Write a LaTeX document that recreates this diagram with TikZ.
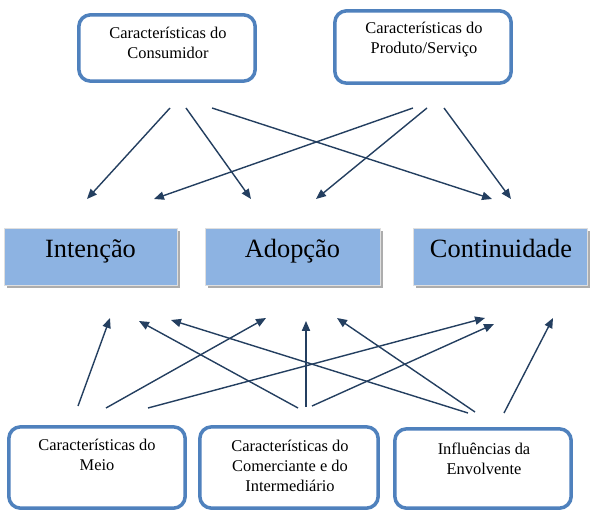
\documentclass[tikz,border=0pt]{standalone}
\usepackage{fontspec}
\setmainfont{Liberation Serif}
\usepackage{tikz}
\usetikzlibrary{arrows.meta,shadows}

\definecolor{boxline}{RGB}{79,129,189}
\definecolor{boxfill}{RGB}{141,179,226}
\definecolor{arrowcol}{RGB}{36,63,96}

\begin{document}
\begin{tikzpicture}[x=0.03cm,y=-0.03cm,
  ubox/.style={draw=boxline,line width=3pt,rounded corners=10pt,fill=white,minimum width=5.29cm},
  mbox/.style={fill=boxfill,draw=gray!25,line width=0.6pt,minimum height=1.71cm,
    drop shadow={shadow xshift=2.5pt,shadow yshift=-2.5pt,fill=gray!80,opacity=0.8}},
  utxt/.style={align=center,font=\fontsize{14}{17}\selectfont,inner sep=0pt},
  mtxt/.style={font=\fontsize{22.5}{27}\selectfont,text height=16pt,text depth=5pt,inner sep=0pt},
  arr/.style={draw=arrowcol,line width=1.2pt,-{Triangle[length=8.5pt,width=7pt]}}]
\useasboundingbox (0,0) rectangle (596,516);

% top boxes
\node[ubox,minimum height=1.99cm] (cons) at (167,48) {};
\node[utxt] (cons-t) at (168,43) {Características do\\Consumidor};
\node[ubox,minimum height=2.17cm] (prod) at (423,47) {};
\node[utxt] (prod-t) at (424,40) {Características do\\Produto/Serviço};

% middle row
\node[mbox,minimum width=5.19cm] (int) at (90.5,256.5) {};
\node[mtxt] (int-t) at (90.5,251) {Intenção};
\node[mbox,minimum width=5.25cm] (ado) at (292.5,256.5) {};
\node[mtxt] (ado-t) at (292.5,251) {Adopção};
\node[mbox,minimum width=5.22cm] (cont) at (500,256.5) {};
\node[mtxt] (cont-t) at (501,251) {Continuidade};

% bottom boxes
\node[ubox,minimum height=2.44cm] (meio) at (97,467.5) {};
\node[utxt] (meio-t) at (97,455) {Características do\\Meio};
\node[ubox,minimum width=5.35cm,minimum height=2.44cm] (com) at (289,467.5) {};
\node[utxt] (com-t) at (290,466) {Características do\\Comerciante e do\\Intermediário};
\node[ubox,minimum height=2.38cm] (env) at (483,468.5) {};
\node[utxt] (env-t) at (484,459) {Influências da\\Envolvente};

% arrow ends
\coordinate (cons1) at (170,108); \coordinate (int1) at (87,199);
\coordinate (cons2) at (186,108); \coordinate (ado1) at (251,199);
\coordinate (cons3) at (212,108); \coordinate (cont1) at (492,199);
\coordinate (prod1) at (413,108); \coordinate (int2) at (154,199);
\coordinate (prod2) at (427,108); \coordinate (ado2) at (316,199);
\coordinate (prod3) at (444,108); \coordinate (cont2) at (511,199);

\coordinate (meio1) at (78,406);  \coordinate (int3) at (110,318);
\coordinate (meio2) at (106,408); \coordinate (ado3) at (266,318);
\coordinate (meio3) at (148,408); \coordinate (cont3) at (485,318);
\coordinate (com1) at (298,408);  \coordinate (int4) at (139,321);
\coordinate (com2) at (306,407);  \coordinate (ado4) at (306,321);
\coordinate (com3) at (312,406);  \coordinate (cont4) at (494,324);
\coordinate (env1) at (468,413);  \coordinate (int5) at (171,320);
\coordinate (env2) at (475,412);  \coordinate (ado5) at (337,318);
\coordinate (env3) at (504,413);  \coordinate (cont5) at (553,318);

\draw[arr] (cons1) -- (int1);
\draw[arr] (cons2) -- (ado1);
\draw[arr] (cons3) -- (cont1);
\draw[arr] (prod1) -- (int2);
\draw[arr] (prod2) -- (ado2);
\draw[arr] (prod3) -- (cont2);

\draw[arr] (meio1) -- (int3);
\draw[arr] (meio2) -- (ado3);
\draw[arr] (meio3) -- (cont3);
\draw[arr] (com1) -- (int4);
\draw[arr] (com2) -- (ado4);
\draw[arr] (com3) -- (cont4);
\draw[arr] (env1) -- (int5);
\draw[arr] (env2) -- (ado5);
\draw[arr] (env3) -- (cont5);
\end{tikzpicture}
\end{document}
